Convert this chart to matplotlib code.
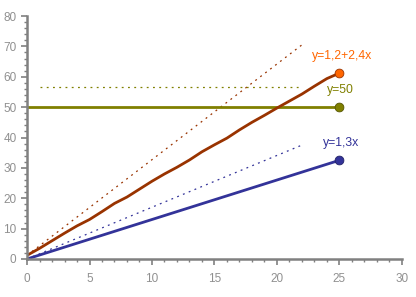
import numpy as np
import matplotlib
matplotlib.use("Agg")
import matplotlib.pyplot as plt
from matplotlib.ticker import MultipleLocator

# ── data ─────────────────────────────────────────────
x_fit = [0, 25]
y_blue = [0, 32.5]              # y=1,3x
y_olive = [50, 50]              # y=50

# measured curve (slightly wavy)
x_meas = [0, 1, 2, 3, 4, 5, 6, 7, 8, 9, 10, 11, 12, 13, 14, 15, 16, 17,
          18, 19, 20, 21, 22, 23, 24, 25]
y_meas = [1.2, 3.5, 6.0, 8.5, 10.9, 13.0, 15.6, 18.3, 20.4, 23.0, 25.6, 28.0,
          30.2, 32.6, 35.3, 37.6, 39.8, 42.5, 45.0, 47.3, 49.7, 52.0, 54.3,
          56.9, 59.4, 61.2]

# dotted guide lines
x_guide = [0, 22]
y_guide_brown = [1.2, 70.5]
y_guide_blue = [0, 37.5]
x_guide_olive = [1, 22]
y_guide_olive = [56.5, 56.5]

labels = ["y=1,2+2,4x", "y=50", "y=1,3x"]

# ── colours ──────────────────────────────────────────
C_BLUE = "#333399"
C_OLIVE = "#808000"
C_BROWN = "#993300"
C_ORANGE = "#ff6600"
C_AXIS = "#808080"

fig = plt.figure(figsize=(4.16, 2.97), dpi=100)
ax = fig.add_axes([0.065, 0.128, 0.901, 0.818])

ax.plot(x_guide, y_guide_brown, ls=(0, (1.5, 3.5)), color=C_BROWN, lw=0.9)
ax.plot(x_guide, y_guide_blue, ls=(0, (1.5, 3.5)), color=C_BLUE, lw=0.9)
ax.plot(x_guide_olive, y_guide_olive, ls=(0, (1.5, 3.5)), color=C_OLIVE, lw=0.9)

ax.plot(x_fit, y_olive, color=C_OLIVE, lw=2)
ax.plot(x_fit, y_blue, color=C_BLUE, lw=2)
ax.plot(x_meas, y_meas, color=C_BROWN, lw=2)

ax.scatter([25], [y_olive[-1]], s=40, color=C_OLIVE, edgecolors="#555500",
           linewidths=0.6, zorder=5)
ax.scatter([25], [y_blue[-1]], s=40, color=C_BLUE, edgecolors="#222266",
           linewidths=0.6, zorder=5)
ax.scatter([25], [y_meas[-1]], s=40, color=C_ORANGE, edgecolors=C_BROWN,
           linewidths=0.6, zorder=5)

ax.text(22.8, 66.8, labels[0], color=C_ORANGE, fontsize=8.8, ha="left",
        va="center", family="Liberation Sans")
ax.text(24.0, 55.6, labels[1], color=C_OLIVE, fontsize=8.8, ha="left",
        va="center", family="Liberation Sans")
ax.text(23.7, 38.2, labels[2], color=C_BLUE, fontsize=8.8, ha="left",
        va="center", family="Liberation Sans")

ax.set_xlim(0, 30)
ax.set_ylim(0, 80)
ax.xaxis.set_major_locator(MultipleLocator(5))
ax.xaxis.set_minor_locator(MultipleLocator(1))
ax.yaxis.set_major_locator(MultipleLocator(10))
ax.yaxis.set_minor_locator(MultipleLocator(2))

for side in ("top", "right"):
    ax.spines[side].set_visible(False)
for side in ("left", "bottom"):
    ax.spines[side].set_color(C_AXIS)
    ax.spines[side].set_linewidth(1.8)
ax.tick_params(which="major", length=4, width=1.2, color=C_AXIS,
               labelcolor="#909090", labelsize=8.5)
ax.tick_params(which="minor", length=2.5, width=1, color=C_AXIS)
ax.tick_params(axis="x", pad=6)
for lab in ax.get_xticklabels() + ax.get_yticklabels():
    lab.set_family("Liberation Sans")

fig.savefig("out.png", dpi=100)
